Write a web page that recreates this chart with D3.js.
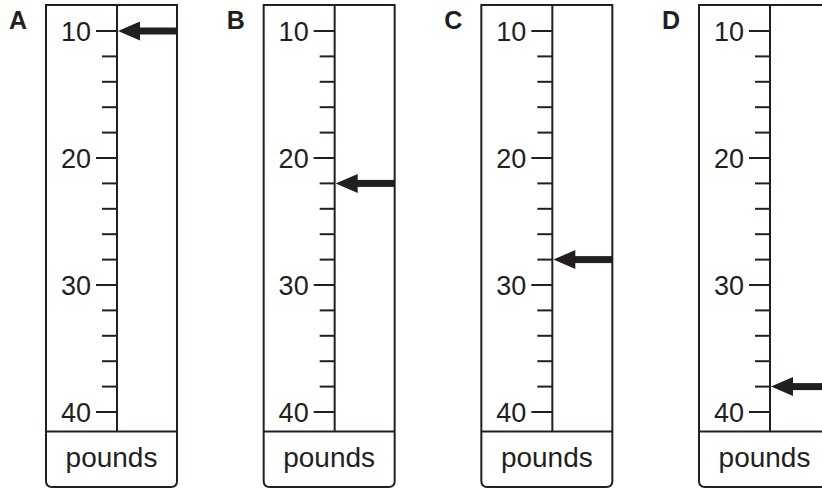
<!DOCTYPE html>
<html>
<head>
<meta charset="utf-8">
<script src="https://cdn.jsdelivr.net/npm/d3@7"></script>
<style>
  html, body { margin: 0; padding: 0; background: #fff; }
  svg { display: block; font-family: "Liberation Sans", Arial, sans-serif; }
</style>
</head>
<body>
<svg id="chart" width="822" height="489"></svg>
<script>
// ─── Data ─────────────────────────────────────────────────────────────────────
const panels    = ["A", "B", "C", "D"];
const readings  = [10, 22, 28, 38];          // pounds pointed at by each arrow
const majorTicks = [10, 20, 30, 40];
const minorTicks = d3.range(10, 41, 2);
const unitLabel = "pounds";

// ─── Layout ───────────────────────────────────────────────────────────────────
const INK = "#231f20";
const boxW = 131, boxTop = 5, boxBottom = 487, divY = 431.5, corner = 6;
const axisOff = 71;

const svg = d3.select("#chart");

// panel index -> left edge of box
const xPanel = d3.scaleLinear().domain([0, 3]).range([46, 699]);
// pounds -> y
const y = d3.scaleLinear().domain([10, 40]).range([31, 412]);

panels.forEach((name, i) => {
    const left = xPanel(i);
    const right = left + boxW;
    const ax = left + axisOff;
    const g = svg.append("g");

    // panel letter
    g.append("text")
        .attr("x", left - 37).attr("y", 29)
        .attr("font-size", 25).attr("font-weight", "bold")
        .attr("fill", INK)
        .text(name);

    // outer box: square top corners, rounded bottom ones
    g.append("path")
        .attr("d", `M${left},${boxTop} H${right} V${boxBottom - corner}
                    Q${right},${boxBottom} ${right - corner},${boxBottom}
                    H${left + corner} Q${left},${boxBottom} ${left},${boxBottom - corner} Z`)
        .attr("fill", "none").attr("stroke", INK).attr("stroke-width", 2);

    // divider above unit label
    g.append("line")
        .attr("x1", left).attr("x2", right)
        .attr("y1", divY).attr("y2", divY)
        .attr("stroke", INK).attr("stroke-width", 2);

    // scale spine
    g.append("line")
        .attr("x1", ax).attr("x2", ax)
        .attr("y1", boxTop).attr("y2", divY)
        .attr("stroke", INK).attr("stroke-width", 2);

    // ticks
    g.selectAll(".tick").data(minorTicks).join("line")
        .attr("x1", d => ax - (d % 10 === 0 ? 21 : 15))
        .attr("x2", ax)
        .attr("y1", d => y(d)).attr("y2", d => y(d))
        .attr("stroke", INK).attr("stroke-width", 2);

    g.selectAll(".lbl").data(majorTicks).join("text")
        .attr("x", ax - 26)
        .attr("y", d => y(d) + 10)
        .attr("text-anchor", "end")
        .attr("font-size", 27)
        .attr("fill", INK)
        .text(d => d);

    // unit label
    g.append("text")
        .attr("x", (left + right) / 2).attr("y", 467)
        .attr("text-anchor", "middle")
        .attr("font-size", 28)
        .attr("fill", INK)
        .text(unitLabel);

    // arrow pointing at the reading
    const ay = y(readings[i]);
    g.append("rect")
        .attr("x", ax + 18).attr("y", ay - 3.5)
        .attr("width", right - ax - 18).attr("height", 7)
        .attr("fill", INK);
    g.append("path")
        .attr("d", `M${ax + 1},${ay} L${ax + 23},${ay - 9.5} L${ax + 23},${ay + 9.5} Z`)
        .attr("fill", INK);
});
</script>
</body>
</html>
